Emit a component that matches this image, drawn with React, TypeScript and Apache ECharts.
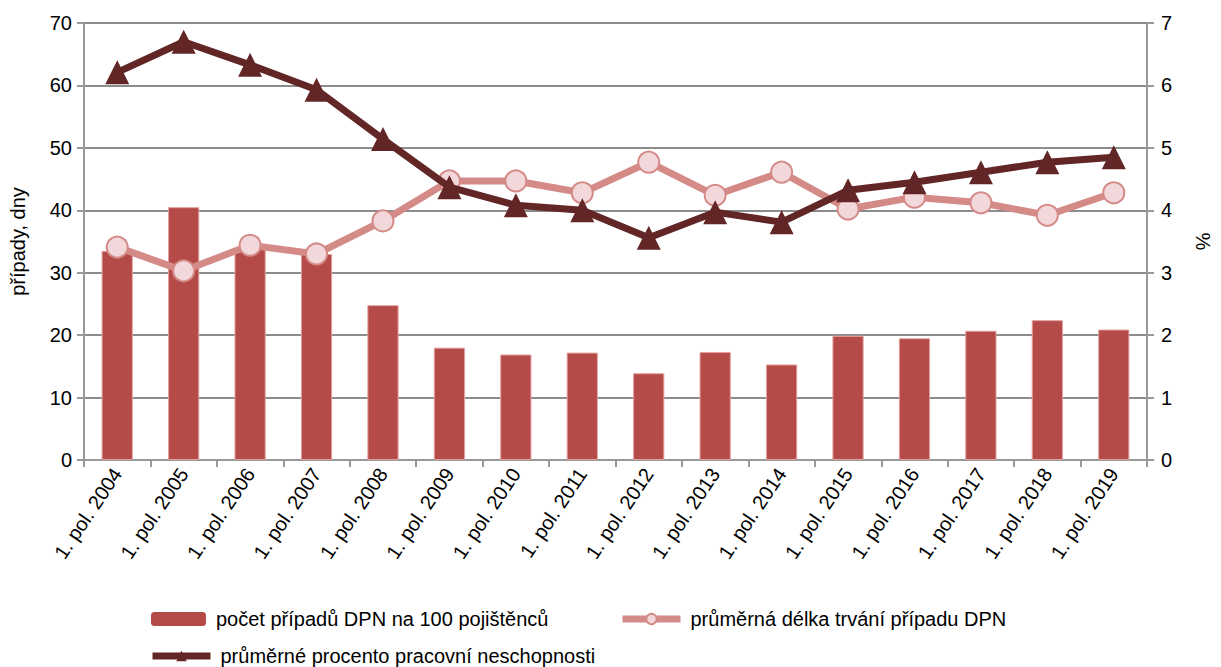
import React, { useEffect, useRef } from "react";
import * as echarts from "echarts";

const categories = [
  "1. pol. 2004", "1. pol. 2005", "1. pol. 2006", "1. pol. 2007", "1. pol. 2008",
  "1. pol. 2009", "1. pol. 2010", "1. pol. 2011", "1. pol. 2012", "1. pol. 2013",
  "1. pol. 2014", "1. pol. 2015", "1. pol. 2016", "1. pol. 2017", "1. pol. 2018", "1. pol. 2019",
];
const casesPer100 = [33.5, 40.5, 34.0, 33.0, 24.8, 18.0, 16.9, 17.2, 13.9, 17.3, 15.3, 19.9, 19.5, 20.7, 22.4, 20.9];
const avgDuration = [34.1, 30.3, 34.4, 33.0, 38.3, 44.7, 44.7, 42.8, 47.7, 42.4, 46.1, 40.2, 42.1, 41.2, 39.2, 42.8];
const avgPercent = [6.21, 6.70, 6.33, 5.93, 5.14, 4.37, 4.08, 4.00, 3.56, 3.97, 3.81, 4.32, 4.45, 4.61, 4.77, 4.85];

const nameBars = "počet případů DPN na 100 pojištěnců";
const nameDur = "průměrná délka trvání případu DPN";
const namePct = "průměrné procento pracovní neschopnosti";

const FONT = "Liberation Sans, Arial, sans-serif";

export default function App() {
  const ref = useRef<HTMLDivElement>(null);
  useEffect(() => {
    if (!ref.current) return;
    const chart = echarts.init(ref.current, null, { renderer: "svg" });
    const axisLine = { show: true, lineStyle: { color: "#999", width: 2 } };
    const legendText = { fontSize: 20, color: "#000", fontFamily: FONT, padding: [0, 0, 0, 5] };
    chart.setOption({
      animation: false,
      textStyle: { fontFamily: FONT },
      grid: { left: 80, right: 60, top: 23, bottom: 207, containLabel: false },
      legend: [
        {
          data: [nameBars], left: 146, top: 604, itemWidth: 55, itemHeight: 14,
          textStyle: legendText, icon: "roundRect",
          itemStyle: { borderWidth: 0 },
        },
        {
          data: [nameDur], left: 614, top: 604, itemWidth: 58, itemHeight: 13,
          textStyle: legendText, lineStyle: { width: 7 },
        },
        {
          data: [namePct], left: 144, top: 641, itemWidth: 58, itemHeight: 13,
          textStyle: legendText, lineStyle: { width: 7 },
        },
      ],
      xAxis: {
        type: "category",
        data: categories,
        boundaryGap: true,
        axisLine,
        axisTick: { show: true, length: 7, lineStyle: { color: "#999", width: 2 } },
        axisLabel: { rotate: 56, fontSize: 20, color: "#000", margin: 10, fontFamily: FONT },
      },
      yAxis: [
        {
          type: "value", min: 0, max: 70, interval: 10,
          name: "případy, dny", nameLocation: "middle", nameGap: 56, nameRotate: 90,
          nameTextStyle: { fontSize: 20, color: "#000", fontFamily: FONT },
          axisLine,
          axisTick: { show: true, length: 7, lineStyle: { color: "#999", width: 2 } },
          axisLabel: { fontSize: 20, color: "#000", margin: 12, fontFamily: FONT },
          splitLine: { show: true, lineStyle: { color: "#8c8c8c", width: 2 } },
        },
        {
          type: "value", min: 0, max: 7, interval: 1, position: "right",
          name: "%", nameLocation: "middle", nameGap: 46, nameRotate: -90,
          nameTextStyle: { fontSize: 20, color: "#000", fontFamily: FONT },
          axisLine,
          axisTick: { show: true, length: 7, lineStyle: { color: "#999", width: 2 } },
          axisLabel: { fontSize: 20, color: "#000", margin: 14, fontFamily: FONT },
          splitLine: { show: false },
        },
      ],
      series: [
        {
          name: nameBars, type: "bar", data: casesPer100, yAxisIndex: 0,
          barWidth: "47%",
          itemStyle: { color: "#b54b48", borderColor: "#e3a09e", borderWidth: 1 },
        },
        {
          name: nameDur, type: "line", data: avgDuration, yAxisIndex: 0,
          symbol: "circle", symbolSize: 21,
          lineStyle: { color: "#d48a87", width: 7 },
          itemStyle: { color: "#f3d8db", borderColor: "#d48a87", borderWidth: 2 },
          z: 3,
        },
        {
          name: namePct, type: "line", data: avgPercent, yAxisIndex: 1,
          symbol: "triangle", symbolSize: 24,
          lineStyle: { color: "#632626", width: 7 },
          itemStyle: { color: "#632626" },
          z: 4,
        },
      ],
    });
    return () => chart.dispose();
  }, []);
  return <div ref={ref} style={{ width: 1221, height: 667, position: "absolute", left: 0, top: 0 }} />;
}
